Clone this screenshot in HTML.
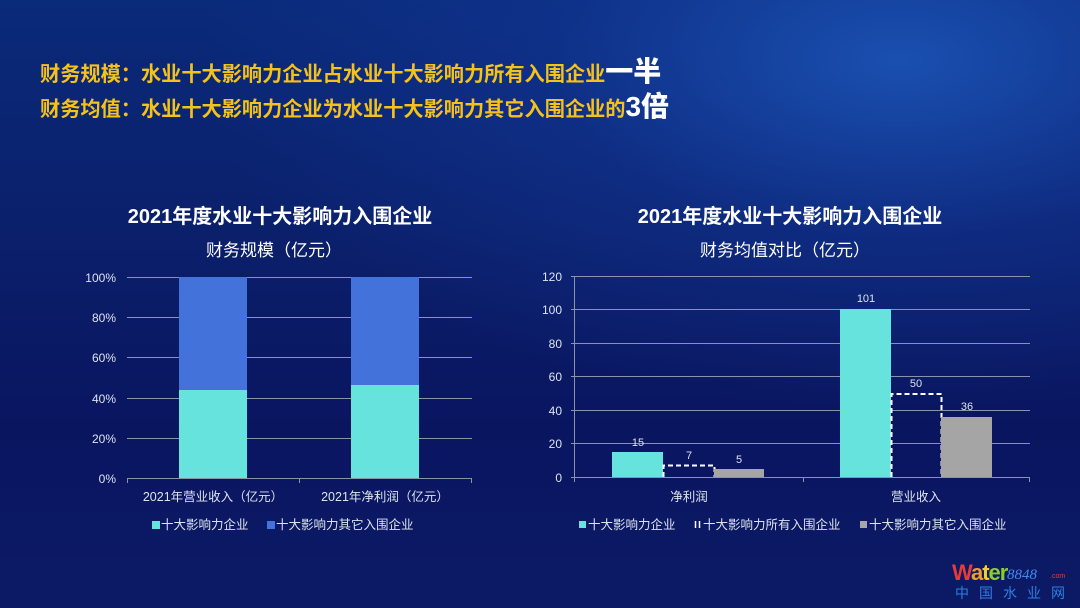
<!DOCTYPE html>
<html><head><meta charset="utf-8"><style>
html,body{margin:0;padding:0}
body{width:1080px;height:608px;overflow:hidden;position:relative;font-family:"Liberation Sans","Noto Sans CJK SC",sans-serif;
background:radial-gradient(ellipse 700px 350px at 900px 60px,#1a4fb0 0%,rgba(20,60,160,0.4) 50%,rgba(0,0,0,0) 100%),linear-gradient(180deg,#0a2a7a 0%,#0b1f6a 40%,#0a1560 70%,#0c1a66 100%);}
.t{position:absolute;left:40px;color:#f5c21a;font-weight:bold;font-size:20.2px;white-space:nowrap;height:30px;line-height:30px}
.t b{color:#fff;font-size:28px;line-height:20px}
svg{position:absolute;left:0;top:0}
</style></head><body>
<div class="t" style="top:60px">财务规模：水业十大影响力企业占水业十大影响力所有入围企业<b>一半</b></div>
<div class="t" style="top:95px">财务均值：水业十大影响力企业为水业十大影响力其它入围企业的<b>3倍</b></div>
<svg width="1080" height="608" font-family="Liberation Sans, Noto Sans CJK SC, sans-serif">
<!-- Left chart -->
<text x="280" y="223" fill="#fff" font-size="20" font-weight="bold" text-anchor="middle">2021年度水业十大影响力入围企业</text>
<text x="274" y="256" fill="#fff" font-size="17" text-anchor="middle">财务规模（亿元）</text>
<g stroke="#8a93a8" stroke-width="1">
<line x1="127" y1="277.5" x2="472" y2="277.5"/><line x1="127" y1="317.5" x2="472" y2="317.5"/><line x1="127" y1="357.5" x2="472" y2="357.5"/><line x1="127" y1="398.5" x2="472" y2="398.5"/><line x1="127" y1="438.5" x2="472" y2="438.5"/><line x1="127" y1="478.5" x2="472" y2="478.5"/>
<line x1="127.5" y1="478" x2="127.5" y2="483"/><line x1="299.5" y1="478" x2="299.5" y2="483"/><line x1="471.5" y1="478" x2="471.5" y2="483"/>
</g>
<rect x="179" y="277" width="68" height="113" fill="#4472db"/><rect x="179" y="390" width="68" height="88" fill="#66e3dd"/>
<rect x="351" y="277" width="68" height="108" fill="#4472db"/><rect x="351" y="385" width="68" height="93" fill="#66e3dd"/>
<g fill="#dde3ee" font-size="12" text-anchor="end">
<text x="116" y="282">100%</text><text x="116" y="322">80%</text><text x="116" y="362">60%</text><text x="116" y="403">40%</text><text x="116" y="443">20%</text><text x="116" y="483">0%</text>
</g>
<g fill="#dde3ee" font-size="12.5" text-anchor="middle">
<text x="213" y="501">2021年营业收入（亿元）</text><text x="385" y="501">2021年净利润（亿元）</text>
</g>
<rect x="152" y="521" width="8" height="8" fill="#66e3dd"/><text x="161" y="529" fill="#dde3ee" font-size="12.5">十大影响力企业</text>
<rect x="267" y="521" width="8" height="8" fill="#4472db"/><text x="276" y="529" fill="#dde3ee" font-size="12.5">十大影响力其它入围企业</text>
<!-- Right chart -->
<text x="790" y="223" fill="#fff" font-size="20" font-weight="bold" text-anchor="middle">2021年度水业十大影响力入围企业</text>
<text x="785" y="256" fill="#fff" font-size="17" text-anchor="middle">财务均值对比（亿元）</text>
<g stroke="#8a93a8" stroke-width="1">
<line x1="571" y1="276.5" x2="1030" y2="276.5"/><line x1="571" y1="309.5" x2="1030" y2="309.5"/><line x1="571" y1="343.5" x2="1030" y2="343.5"/><line x1="571" y1="376.5" x2="1030" y2="376.5"/><line x1="571" y1="410.5" x2="1030" y2="410.5"/><line x1="571" y1="443.5" x2="1030" y2="443.5"/><line x1="571" y1="477.5" x2="1030" y2="477.5"/>
<line x1="574.5" y1="276" x2="574.5" y2="482"/><line x1="803.5" y1="477" x2="803.5" y2="482"/><line x1="1029.5" y1="477" x2="1029.5" y2="482"/>
</g>
<rect x="612" y="452" width="51" height="25" fill="#66e3dd"/>
<path d="M663.5 477 V465.5 H714.5 V477" fill="none" stroke="#fff" stroke-width="2" stroke-dasharray="5,3"/>
<rect x="714" y="469" width="50" height="8" fill="#a5a5a5"/>
<rect x="840" y="309" width="51" height="168" fill="#66e3dd"/>
<path d="M891.5 477 V394 H941.5 V477" fill="none" stroke="#fff" stroke-width="2" stroke-dasharray="5,3"/>
<rect x="941" y="417" width="51" height="60" fill="#a5a5a5"/>
<g fill="#dde3ee" font-size="11" text-anchor="middle">
<text x="638" y="446">15</text><text x="689" y="459">7</text><text x="739" y="463">5</text>
<text x="866" y="302">101</text><text x="916" y="387">50</text><text x="967" y="410">36</text>
</g>
<g fill="#dde3ee" font-size="12" text-anchor="end">
<text x="562" y="281">120</text><text x="562" y="314">100</text><text x="562" y="348">80</text><text x="562" y="381">60</text><text x="562" y="415">40</text><text x="562" y="448">20</text><text x="562" y="482">0</text>
</g>
<g fill="#dde3ee" font-size="12.5" text-anchor="middle"><text x="689" y="501">净利润</text><text x="916" y="501">营业收入</text></g>
<rect x="579" y="521" width="7" height="7" fill="#66e3dd"/><text x="588" y="529" fill="#dde3ee" font-size="12.5">十大影响力企业</text>
<path d="M695.5 521 V528 M699.5 521 V528" stroke="#fff" stroke-width="1.5"/><text x="703" y="529" fill="#dde3ee" font-size="12.5">十大影响力所有入围企业</text>
<rect x="860" y="521" width="7" height="7" fill="#a5a5a5"/><text x="869" y="529" fill="#dde3ee" font-size="12.5">十大影响力其它入围企业</text>
<!-- logo -->
<text x="952" y="580" font-size="22" font-weight="bold" fill="#e83a3a" letter-spacing="-1">W<tspan fill="#f0a020">a</tspan><tspan fill="#f5d020">t</tspan><tspan fill="#8ccc30">er</tspan></text>
<text x="1007" y="579" font-size="15" font-style="italic" fill="#4488ee" font-family="Liberation Serif, serif">8848</text>
<text x="1050" y="578" font-size="7" fill="#e83a3a">.com</text>
<text x="955" y="598" font-size="14" fill="#2e7fe0" letter-spacing="10">中国水业网</text>
</svg>
</body></html>
